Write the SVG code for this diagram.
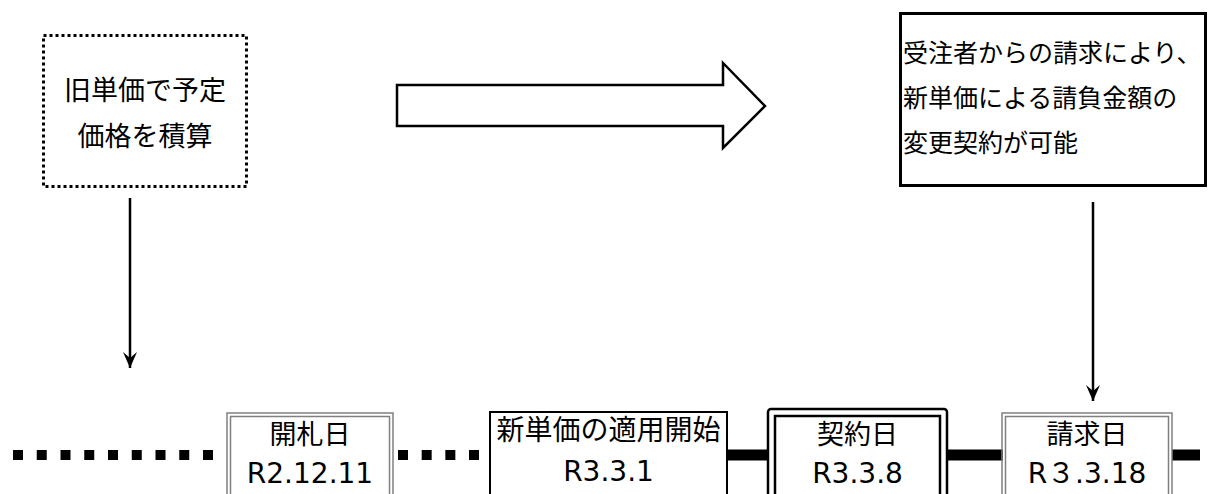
<svg xmlns="http://www.w3.org/2000/svg" width="1211" height="494" viewBox="0 0 1211 494">
<style>
text{font-family:"DejaVu Sans","Noto Sans CJK JP",sans-serif;fill:#000}
.c{text-anchor:middle}
.box{fill:#fff;stroke:#000}
.grey{fill:none;stroke:#808080;stroke-width:1.5}
.arr{stroke:#000;stroke-width:2.5;fill:none}
</style>
<defs>
<marker id="ahd" viewBox="0 0 14 18" refX="7" refY="18" markerWidth="14" markerHeight="18" markerUnits="userSpaceOnUse" orient="0">
<path d="M0,2 L7,18 L14,2 L7,8 Z" fill="#000"/>
</marker>
</defs>
<rect width="1211" height="494" fill="#fff"/>

<g id="connectors">
<line x1="130" y1="198" x2="130" y2="368" class="arr" marker-end="url(#ahd)"/>
<line x1="1093" y1="202" x2="1093" y2="401" class="arr" marker-end="url(#ahd)"/>
<polygon points="397,85 723,85 723,63 765,106 723,148 723,126 397,126" fill="#fff" stroke="#000" stroke-width="2.5" stroke-linejoin="miter"/>
<line x1="13" y1="455" x2="214" y2="455" stroke="#000" stroke-width="10" stroke-dasharray="10 13.75"/>
<line x1="398" y1="455" x2="481" y2="455" stroke="#000" stroke-width="10" stroke-dasharray="10 13.67"/>
<line x1="727" y1="455" x2="769" y2="455" stroke="#000" stroke-width="11"/>
<line x1="947" y1="455" x2="1003" y2="455" stroke="#000" stroke-width="11"/>
<line x1="1172" y1="455" x2="1200" y2="455" stroke="#000" stroke-width="11"/>
</g>

<g id="old-price">
<rect x="43.5" y="35.5" width="203" height="151" fill="#fff" stroke="#000" stroke-width="3" stroke-dasharray="3 3"/>
<text x="145" y="100" class="c" font-size="27">旧単価で予定</text>
<text x="145" y="146" class="c" font-size="27">価格を積算</text>
</g>

<g id="change-contract">
<rect x="900.5" y="13.5" width="305" height="172" class="box" stroke-width="3"/>
<text x="903" y="62" font-size="25">受注者からの請求により、</text>
<text x="903" y="107" font-size="25">新単価による請負金額の</text>
<text x="903" y="152" font-size="25">変更契約が可能</text>
</g>

<g id="bid-date">
<rect x="227" y="413" width="166" height="100" fill="#fff" class="grey"/>
<rect x="230.5" y="416.5" width="159" height="100" class="grey"/>
<text x="310" y="444" class="c" font-size="27">開札日</text>
<text x="310" y="483" class="c" font-size="28">R2.12.11</text>
</g>

<g id="new-price-start">
<rect x="490" y="412" width="237" height="100" class="box" stroke-width="2"/>
<text x="608.5" y="440" class="c" font-size="28">新単価の適用開始</text>
<text x="608.5" y="481" class="c" font-size="28">R3.3.1</text>
</g>

<g id="contract-date">
<rect x="768" y="409" width="179" height="100" rx="3" class="box" stroke-width="2.5"/>
<rect x="775" y="416" width="165" height="100" fill="none" stroke="#000" stroke-width="2.5"/>
<text x="857.5" y="444" class="c" font-size="27">契約日</text>
<text x="857.5" y="483" class="c" font-size="28">R3.3.8</text>
</g>

<g id="request-date">
<rect x="1002" y="413" width="170" height="100" fill="#fff" class="grey"/>
<rect x="1005.5" y="416.5" width="163" height="100" class="grey"/>
<text x="1087" y="444" class="c" font-size="27">請求日</text>
<text x="1087" y="483" class="c" font-size="28">R３.3.18</text>
</g>
</svg>
